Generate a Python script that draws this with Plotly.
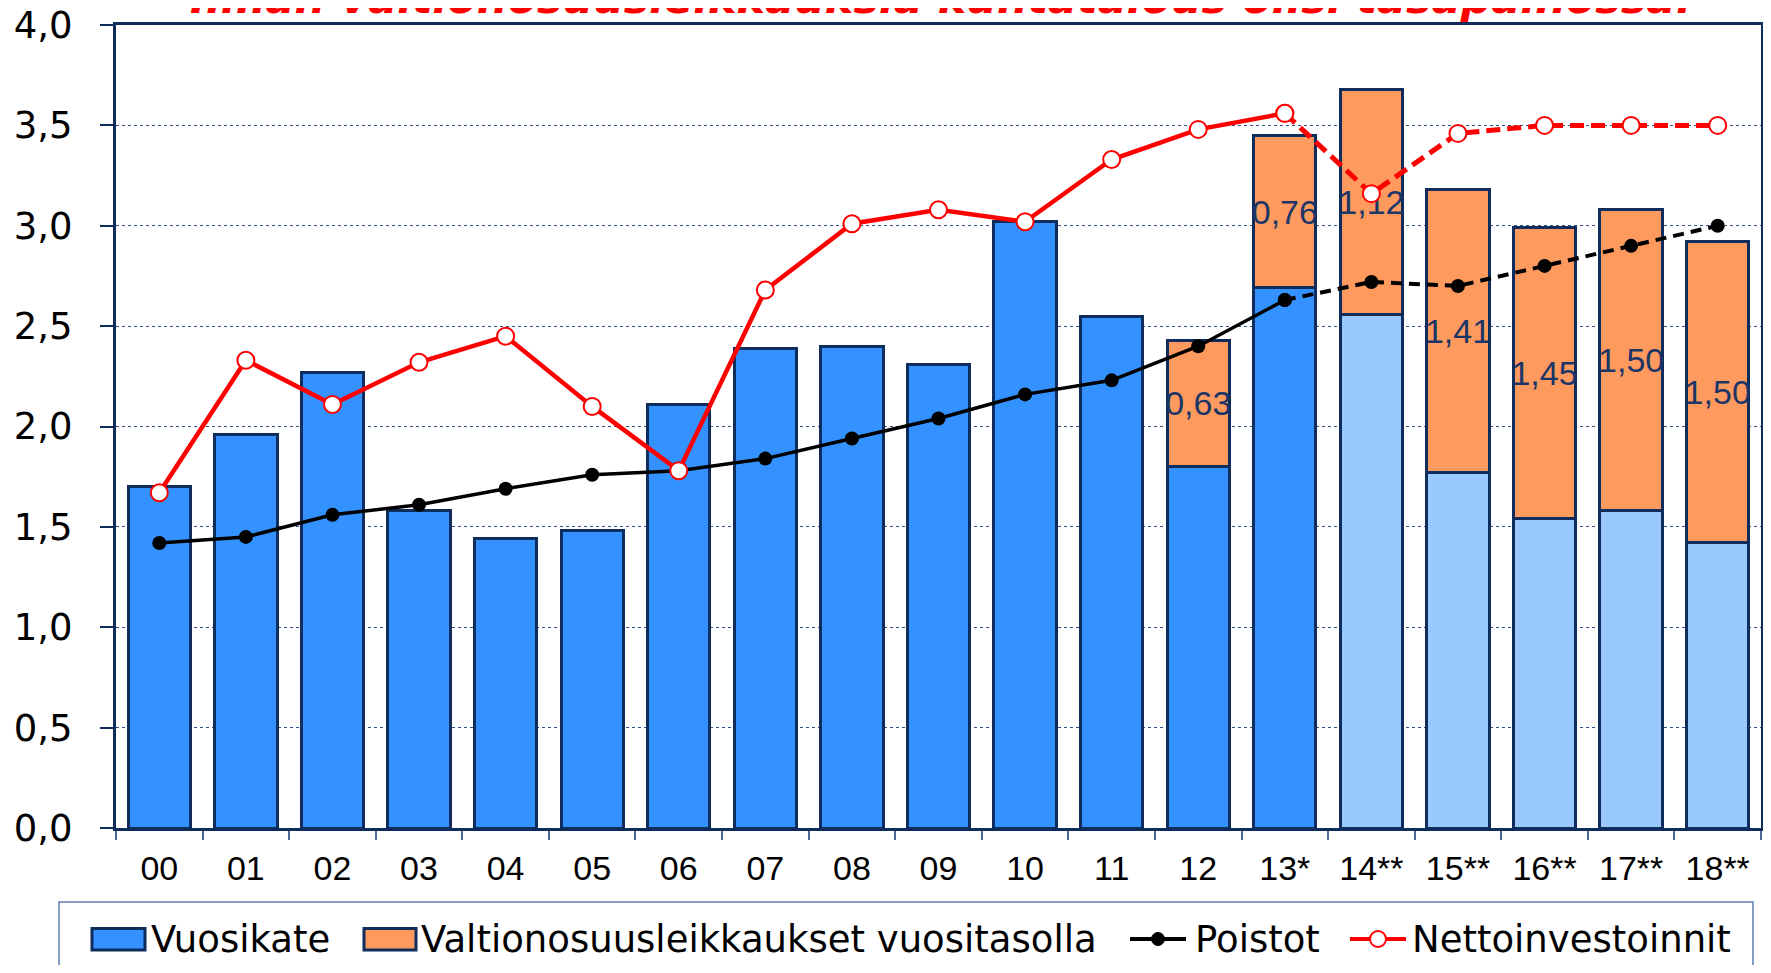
import plotly.graph_objects as go

# ---------------- data ----------------
categories = ["00", "01", "02", "03", "04", "05", "06", "07", "08", "09",
              "10", "11", "12", "13*", "14**", "15**", "16**", "17**", "18**"]
vuosikate = [1.70, 1.96, 2.27, 1.58, 1.44, 1.48, 2.11, 2.39, 2.40, 2.31,
             3.02, 2.55, 1.80, 2.69, 2.56, 1.77, 1.54, 1.58, 1.42]
leikkaukset = [None, None, None, None, None, None, None, None, None, None,
               None, None, 0.63, 0.76, 1.12, 1.41, 1.45, 1.50, 1.50]
poistot = [1.42, 1.45, 1.56, 1.61, 1.69, 1.76, 1.78, 1.84, 1.94, 2.04,
           2.16, 2.23, 2.40, 2.63, 2.72, 2.70, 2.80, 2.90, 3.00]
netto = [1.67, 2.33, 2.11, 2.32, 2.45, 2.10, 1.78, 2.68, 3.01, 3.08,
         3.02, 3.33, 3.48, 3.56, 3.16, 3.46, 3.50, 3.50, 3.50]
y_ticks = [0.0, 0.5, 1.0, 1.5, 2.0, 2.5, 3.0, 3.5, 4.0]

title_text = "Ilman valtionosuusleikkauksia kuntatalous olisi tasapainossa."
legend_names = ["Vuosikate", "Valtionosuusleikkaukset vuositasolla", "Poistot", "Nettoinvestoinnit"]

dash_start = categories.index("13*")      # lines become dashed from here
light_start = categories.index("14**")    # forecast bars drawn lighter

# ---------------- style ----------------
BODY = 8                      # default page margin around the figure
W, H = 1771 - 2 * BODY, 973 - 2 * BODY
PL, PR, PT, PB = 116, 1761, 25, 828   # wanted plot box in page pixels
ML, MT = PL - BODY, PT - BODY
MR = W + BODY - PR
MB = H + BODY - PB
PW, PH = PR - PL, PB - PT

NAVY = "#0f2d5c"
BLUE = "#3392ff"
LIGHT = "#99c9ff"
ORANGE = "#ff9a5f"
RED = "#ff0000"


def px(x):
    return (x - PL) / PW


def py(y):
    return (PB - y) / PH


bar_colors = [BLUE if i < light_start else LIGHT for i in range(len(categories))]
label_text = ["" if v is None else f"{v:.2f}".replace(".", ",") for v in leikkaukset]

fig = go.Figure()

fig.add_trace(go.Bar(
    x=categories, y=vuosikate, name=legend_names[0],
    marker=dict(color=bar_colors, line=dict(color=NAVY, width=3)),
    showlegend=False, hoverinfo="skip",
))
fig.add_trace(go.Bar(
    x=categories, y=leikkaukset, name=legend_names[1],
    marker=dict(color=ORANGE, line=dict(color=NAVY, width=3)),
    text=label_text, textposition="inside", insidetextanchor="middle",
    textangle=0, constraintext="none",
    textfont=dict(family="Liberation Sans Narrow, Arial Narrow, Liberation Sans, Arial",
                  size=34, color="#1b3566"),
    showlegend=False, hoverinfo="skip",
))

solid = list(range(0, dash_start + 1))
dashed = list(range(dash_start, len(categories)))

# Poistot
fig.add_trace(go.Scatter(
    x=[categories[i] for i in solid], y=[poistot[i] for i in solid],
    mode="lines+markers", line=dict(color="black", width=3.5),
    marker=dict(size=14, color="black"), showlegend=False, hoverinfo="skip",
))
fig.add_trace(go.Scatter(
    x=[categories[i] for i in dashed], y=[poistot[i] for i in dashed],
    mode="lines+markers", line=dict(color="black", width=4, dash="11px,7px"),
    marker=dict(size=14, color="black"), showlegend=False, hoverinfo="skip",
))
# Nettoinvestoinnit
fig.add_trace(go.Scatter(
    x=[categories[i] for i in solid], y=[netto[i] for i in solid],
    mode="lines+markers", line=dict(color=RED, width=4.5),
    marker=dict(size=17, color="white", line=dict(color=RED, width=2)),
    showlegend=False, hoverinfo="skip",
))
fig.add_trace(go.Scatter(
    x=[categories[i] for i in dashed], y=[netto[i] for i in dashed],
    mode="lines+markers", line=dict(color=RED, width=5, dash="14px,7px"),
    marker=dict(size=17, color="white", line=dict(color=RED, width=2)),
    showlegend=False, hoverinfo="skip",
))

# ---------------- custom legend ----------------
shapes = []
annotations = []
LEG_Y = 939
shapes.append(dict(type="rect", xref="paper", yref="paper",
                   x0=px(59), x1=px(1753), y0=py(1000), y1=py(902),
                   line=dict(color="#5d7fad", width=1.5), fillcolor="rgba(0,0,0,0)"))
for x0, x1, col in [(92, 145, BLUE), (364, 416, ORANGE)]:
    shapes.append(dict(type="rect", xref="paper", yref="paper",
                       x0=px(x0), x1=px(x1), y0=py(950), y1=py(928.5),
                       line=dict(color=NAVY, width=3), fillcolor=col))
shapes.append(dict(type="line", xref="paper", yref="paper",
                   x0=px(1130), x1=px(1186), y0=py(LEG_Y), y1=py(LEG_Y),
                   line=dict(color="black", width=4)))
shapes.append(dict(type="circle", xref="paper", yref="paper",
                   x0=px(1151.5), x1=px(1164.5), y0=py(LEG_Y + 6.5), y1=py(LEG_Y - 6.5),
                   line=dict(color="black", width=1), fillcolor="black"))
shapes.append(dict(type="line", xref="paper", yref="paper",
                   x0=px(1350), x1=px(1406), y0=py(LEG_Y), y1=py(LEG_Y),
                   line=dict(color=RED, width=4)))
shapes.append(dict(type="circle", xref="paper", yref="paper",
                   x0=px(1370), x1=px(1386), y0=py(LEG_Y + 8), y1=py(LEG_Y - 8),
                   line=dict(color=RED, width=2), fillcolor="white"))

for name, xl in zip(legend_names, [149, 419, 1193, 1410]):
    annotations.append(dict(text=name, xref="paper", yref="paper", x=px(xl), y=py(LEG_Y),
                            xanchor="left", yanchor="middle", showarrow=False,
                            font=dict(family="Verdana, DejaVu Sans", size=37, color="black")))

annotations.append(dict(text=f"<b><i>{title_text}</i></b>", xref="paper", yref="paper",
                        x=px(941), y=1, xanchor="center", yanchor="bottom", yshift=0,
                        showarrow=False,
                        font=dict(family="Verdana, DejaVu Sans", size=43, color=RED)))

fig.update_layout(
    width=W, height=H,
    margin=dict(l=ML, r=MR, t=MT, b=MB, pad=0, autoexpand=False),
    paper_bgcolor="white", plot_bgcolor="white",
    barmode="stack", bargap=0.28,
    separators=", ",
    shapes=shapes, annotations=annotations,
    showlegend=False,
    yaxis2=dict(overlaying="y", anchor="x", side="left", range=[0, 4], dtick=0.1,
                tick0=0, ticks="inside", ticklen=9, tickcolor="#6f8bb3", tickwidth=2,
                showticklabels=False, showgrid=False, showline=False, zeroline=False,
                automargin=False),
)
fig.update_xaxes(
    type="category", range=[-0.5, len(categories) - 0.5],
    tickson="boundaries", ticks="outside", ticklen=9,
    tickcolor="#4a6a9a", tickwidth=2, automargin=False,
    showline=True, linecolor=NAVY, linewidth=3, mirror=True,
    showgrid=False,
    tickfont=dict(family="Liberation Sans, Arial", size=34, color="black"),
    ticklabelstandoff=8,
)
fig.update_layout(yaxis=dict(
    range=[0, 4], tickvals=y_ticks, tickformat=".1f", automargin=False,
    ticks="outside", ticklen=13, tickcolor=NAVY, tickwidth=2,
    showline=True, linecolor=NAVY, linewidth=3, mirror=True,
    showgrid=True, gridcolor="#2f5285", gridwidth=1, griddash="dot",
    zeroline=False, ticklabeloverflow="allow",
    tickfont=dict(family="Verdana, DejaVu Sans", size=37, color="black"),
    ticklabelstandoff=20,
))

fig.write_html("out.html")
